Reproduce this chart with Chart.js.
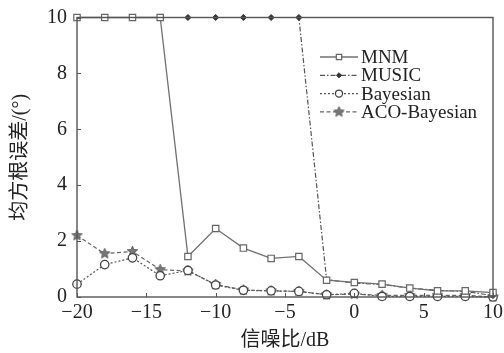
<!DOCTYPE html>
<html>
<head>
<meta charset="utf-8">
<script src="https://cdn.jsdelivr.net/npm/chart.js@4.4.1/dist/chart.umd.min.js"></script>
<style>
  html, body { margin: 0; padding: 0; background: #fff; }
  #wrap { width: 504px; height: 353px; }
</style>
</head>
<body>
<div id="wrap"><canvas id="c" width="504" height="353"></canvas></div>
<script>
// SNR sweep (dB) and RMSE (degrees) of each estimator
const snr = [-20, -18, -16, -14, -12, -10, -8, -6, -4, -2, 0, 2, 4, 6, 8, 10];
const mnm = [10, 10, 10, 10, 1.45, 2.45, 1.75, 1.38, 1.45, 0.6, 0.52, 0.46, 0.32, 0.22, 0.22, 0.16];
const music = [10, 10, 10, 10, 10, 10, 10, 10, 10, 0.62, 0.5, 0.45, 0.32, 0.24, 0.2, 0.05];
const bayes = [0.46, 1.16, 1.4, 0.76, 0.95, 0.43, 0.24, 0.22, 0.2, 0.08, 0.13, 0.02, 0.02, 0.02, 0.02, 0.0];
const aco = [2.2, 1.55, 1.63, 0.98, 0.93, 0.45, 0.25, 0.22, 0.2, 0.08, 0.1, 0.06, 0.06, 0.06, 0.06, 0.0];
const seriesNames = ['MNM', 'MUSIC', 'Bayesian', 'ACO-Bayesian'];
const xTicks = [-20, -15, -10, -5, 0, 5, 10];
const yTicks = [0, 2, 4, 6, 8, 10];

const FONT = "'Liberation Serif', 'Times New Roman', 'Noto Sans CJK SC', serif";

// five-point star marker
function makeStar(r, fill, stroke) {
  const s = Math.ceil(r * 2 + 2);
  const cv = document.createElement('canvas');
  cv.width = s; cv.height = s;
  const g = cv.getContext('2d');
  g.beginPath();
  for (let i = 0; i < 10; i++) {
    const a = -Math.PI / 2 + i * Math.PI / 5;
    const rr = i % 2 === 0 ? r : r * 0.45;
    const x = s / 2 + rr * Math.cos(a), y = s / 2 + rr * Math.sin(a);
    if (i === 0) g.moveTo(x, y); else g.lineTo(x, y);
  }
  g.closePath();
  g.fillStyle = fill; g.fill();
  g.strokeStyle = stroke; g.lineWidth = 0.8; g.stroke();
  return cv;
}
const starImg = makeStar(5.5, '#777', '#555');

const pts = ys => snr.map((x, i) => ({ x, y: ys[i] }));

const datasets = [
  { label: seriesNames[0], data: pts(mnm), borderColor: '#707070', borderWidth: 1.3, borderDash: [],
    pointStyle: 'rect', pointRadius: 4.5, pointBorderColor: '#666', pointBackgroundColor: '#fff', pointBorderWidth: 1.2 },
  { label: seriesNames[1], data: pts(music), borderColor: '#555', borderWidth: 1.2, borderDash: [5, 2, 1.5, 2],
    pointStyle: 'rectRot', pointRadius: 3, pointBorderColor: '#333', pointBackgroundColor: '#333', pointBorderWidth: 1 },
  { label: seriesNames[2], data: pts(bayes), borderColor: '#555', borderWidth: 1.2, borderDash: [2, 2],
    pointStyle: 'circle', pointRadius: 4.2, pointBorderColor: '#444', pointBackgroundColor: '#fff', pointBorderWidth: 1.3 },
  { label: seriesNames[3], data: pts(aco), borderColor: '#666', borderWidth: 1.2, borderDash: [4, 2.5],
    pointStyle: starImg, pointRadius: 5.5, pointBorderColor: '#555', pointBackgroundColor: '#777', pointBorderWidth: 1 }
].map(d => Object.assign({ fill: false, tension: 0, clip: false }, d));

// frame, inward tick marks and the in-plot legend
const decor = {
  id: 'decor',
  afterDraw(chart) {
    const { ctx, chartArea: a, scales } = chart;
    ctx.save();
    ctx.strokeStyle = '#555';
    ctx.lineWidth = 1.4;
    ctx.strokeRect(a.left, a.top, a.right - a.left, a.bottom - a.top);
    ctx.lineWidth = 1;
    ctx.beginPath();
    scales.x.ticks.forEach(t => {
      const px = Math.round(scales.x.getPixelForValue(t.value)) + 0.5;
      ctx.moveTo(px, a.bottom); ctx.lineTo(px, a.bottom - 4);
    });
    scales.y.ticks.forEach(t => {
      const py = Math.round(scales.y.getPixelForValue(t.value)) + 0.5;
      ctx.moveTo(a.left, py); ctx.lineTo(a.left + 4, py);
    });
    ctx.stroke();

    // legend
    const x0 = 320, x1 = 358, tx = 361, y0 = 57, dy = 18.3;
    chart.data.datasets.forEach((d, i) => {
      const y = y0 + i * dy;
      ctx.save();
      ctx.strokeStyle = d.borderColor;
      ctx.lineWidth = d.borderWidth;
      ctx.setLineDash(d.borderDash || []);
      ctx.beginPath(); ctx.moveTo(x0, y); ctx.lineTo(x1, y); ctx.stroke();
      ctx.setLineDash([]);
      ctx.fillStyle = d.pointBackgroundColor;
      ctx.strokeStyle = d.pointBorderColor;
      ctx.lineWidth = d.pointBorderWidth;
      Chart.helpers.drawPoint(ctx, {
        pointStyle: d.pointStyle,
        rotation: 0,
        radius: d.pointRadius * 0.85,
        borderWidth: d.pointBorderWidth
      }, (x0 + x1) / 2, y);
      ctx.restore();
      ctx.fillStyle = '#222';
      ctx.font = '19px ' + FONT;
      ctx.textBaseline = 'middle';
      ctx.textAlign = 'left';
      ctx.fillText(d.label, tx, y + 1);
    });
    ctx.restore();
  }
};

new Chart(document.getElementById('c'), {
  type: 'line',
  data: { datasets },
  options: {
    responsive: false,
    animation: false,
    devicePixelRatio: 1,
    layout: { padding: { top: 17.5, right: 11, left: 0, bottom: 0 } },
    plugins: { legend: { display: false }, tooltip: { enabled: false } },
    scales: {
      x: {
        type: 'linear', min: -20, max: 10,
        afterBuildTicks: s => { s.ticks = xTicks.map(v => ({ value: v })); },
        afterFit: s => { s.height = 56; s.paddingLeft = 0; s.paddingRight = 0; },
        grid: { display: false, drawTicks: false },
        border: { display: false },
        ticks: { color: '#222', padding: 4, font: { family: FONT, size: 20 },
                 callback: v => (v < 0 ? '\u2212' + Math.abs(v) : String(v)) },
        title: { display: true, text: '信噪比/dB', color: '#222', padding: { top: 3, bottom: 0 },
                 font: { family: FONT, size: 20 } }
      },
      y: {
        min: 0, max: 10,
        afterBuildTicks: s => { s.ticks = yTicks.map(v => ({ value: v })); },
        afterFit: s => { s.width = 77; s.paddingTop = 0; s.paddingBottom = 0; },
        grid: { display: false, drawTicks: false },
        border: { display: false },
        ticks: { color: '#222', padding: 10, font: { family: FONT, size: 20 } },
        title: { display: true, text: '均方根误差/(°)', color: '#222', padding: { top: 9, bottom: 0 },
                 font: { family: FONT, size: 20 } }
      }
    }
  },
  plugins: [decor]
});
</script>
</body>
</html>
